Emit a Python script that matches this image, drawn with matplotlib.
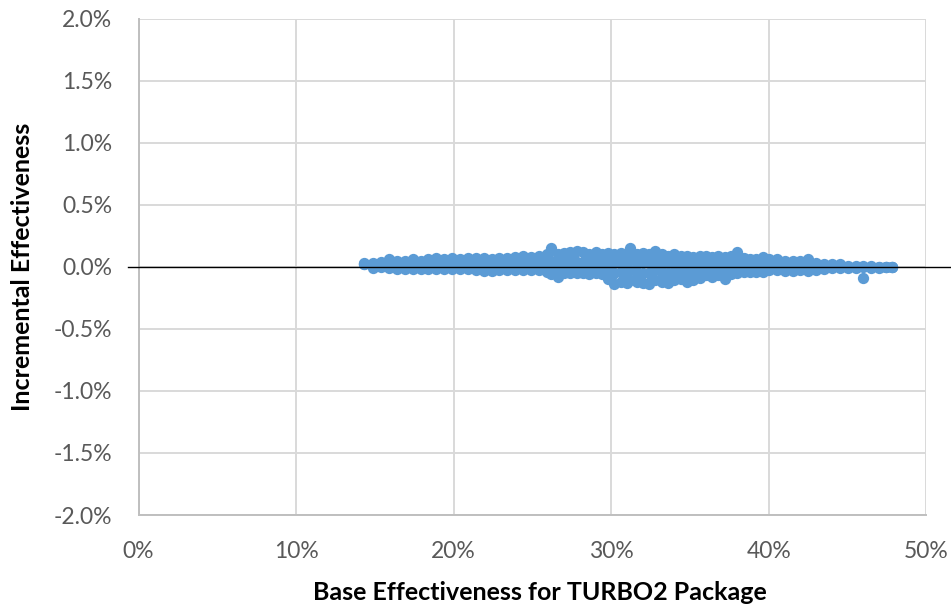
import matplotlib
matplotlib.use("Agg")
import matplotlib.pyplot as plt
from matplotlib.ticker import FuncFormatter

# ---- data (percent units) ----
x_cols = [14.3, 14.9, 15.4, 15.9, 16.4, 16.9, 17.4, 17.9, 18.4, 18.9,
          19.4, 19.9, 20.4, 20.9, 21.4, 21.9, 22.4, 22.9, 23.4, 23.9,
          24.4, 24.9, 25.4, 25.9, 26.2, 26.6, 27.0, 27.4, 27.8, 28.2,
          28.6, 29.0, 29.4, 29.8, 30.2, 30.6, 31.0, 31.2, 31.6, 32.0,
          32.4, 32.8, 33.2, 33.6, 34.0, 34.4, 34.8, 35.2, 35.6, 36.0,
          36.4, 36.8, 37.2, 37.6, 38.0, 38.4, 38.8, 39.2, 39.6, 40.0,
          40.5, 41.0, 41.5, 42.0, 42.5, 43.0, 43.5, 44.0, 44.5, 45.0,
          45.5, 46.0, 46.5, 47.0, 47.4, 47.8]
y_upper = [0.03, 0.03, 0.04, 0.06, 0.05, 0.05, 0.06, 0.05, 0.06, 0.07,
           0.06, 0.07, 0.06, 0.07, 0.07, 0.07, 0.06, 0.07, 0.07, 0.08,
           0.09, 0.08, 0.09, 0.10, 0.155, 0.10, 0.11, 0.12, 0.13, 0.12,
           0.10, 0.12, 0.10, 0.11, 0.10, 0.11, 0.10, 0.155, 0.10, 0.11,
           0.10, 0.13, 0.10, 0.09, 0.10, 0.09, 0.09, 0.08, 0.09, 0.09,
           0.08, 0.09, 0.08, 0.09, 0.115, 0.07, 0.06, 0.06, 0.08, 0.06,
           0.06, 0.05, 0.05, 0.05, 0.06, 0.03, 0.02, 0.02, 0.02, 0.01,
           0.01, 0.01, 0.01, 0.00, 0.00, -0.005]
y_mid = [0.025, 0.01, 0.02, 0.02, 0.015, 0.015, 0.02, 0.015, 0.02, 0.025,
         0.02, 0.025, 0.02, 0.025, 0.02, 0.02, 0.015, 0.02, 0.02, 0.025,
         0.03, 0.025, 0.03, 0.03, 0.05, 0.01, 0.03, 0.04, 0.04, 0.03,
         0.02, 0.035, 0.02, 0.04, 0.03, 0.04, 0.03, 0.06, 0.03, 0.04,
         0.03, 0.05, 0.03, 0.03, 0.04, 0.03, 0.03, 0.02, 0.03, 0.03,
         0.02, 0.03, 0.02, 0.03, 0.04, 0.02, 0.015, 0.015, 0.025, 0.02,
         0.02, 0.01, 0.01, 0.01, 0.015, 0.0, 0.0, 0.005, 0.005, 0.0,
         0.0, 0.0, 0.0, -0.005, -0.005, -0.005]
y_lower = [0.02, -0.01, 0.00, -0.01, -0.02, -0.02, -0.02, -0.02, -0.02, -0.02,
           -0.02, -0.02, -0.02, -0.02, -0.03, -0.035, -0.035, -0.03, -0.03, -0.03,
           -0.03, -0.03, -0.03, -0.04, -0.06, -0.08, -0.05, -0.05, -0.05, -0.05,
           -0.06, -0.05, -0.06, -0.10, -0.135, -0.12, -0.13, -0.11, -0.12, -0.13,
           -0.14, -0.11, -0.12, -0.13, -0.11, -0.10, -0.125, -0.11, -0.09, -0.07,
           -0.08, -0.07, -0.10, -0.06, -0.05, -0.04, -0.04, -0.04, -0.04, -0.03,
           -0.03, -0.035, -0.035, -0.03, -0.035, -0.03, -0.02, -0.01, -0.01, -0.01,
           -0.01, -0.09, -0.01, -0.01, -0.005, -0.005]
x_core = [24.6, 25.1, 25.6, 26.2, 26.6, 27.0, 27.4, 27.8, 28.2, 28.6, 29.0, 29.4, 29.8,
          30.2, 30.6, 31.0, 31.2, 31.6, 32.0, 32.4, 32.8, 33.2, 33.6,
          34.0, 34.4, 34.8, 35.2, 35.6, 36.0, 36.4, 36.8, 37.2, 37.6, 38.0,
          38.6, 39.4, 40.2]
y_core = [0.0, 0.0, -0.01, -0.01, -0.04, -0.01, -0.01, -0.01, -0.01, -0.02, -0.01, -0.02, -0.03,
          -0.05, -0.04, -0.05, -0.03, -0.04, -0.05, -0.05, -0.03, -0.04, -0.05,
          -0.04, -0.03, -0.05, -0.04, -0.03, -0.02, -0.03, -0.02, -0.04, -0.01, -0.01,
          0.0, 0.0, 0.0]
x_core2 = [26.8, 27.6, 28.4, 29.2, 29.6, 30.0, 30.4, 30.8, 31.4, 31.8, 32.2, 32.6, 33.0, 33.4,
           33.8, 34.2, 34.6, 35.0, 35.4, 35.8, 36.6, 37.4]
y_core2 = [0.07, 0.07, 0.07, 0.07, 0.07, -0.08, 0.07, -0.09, 0.07, -0.09, 0.07, -0.09, 0.07, -0.08,
           0.06, -0.08, 0.06, -0.08, 0.06, -0.06, 0.06, 0.05]

x_ticks = [0, 10, 20, 30, 40, 50]
y_ticks = [-2.0, -1.5, -1.0, -0.5, 0.0, 0.5, 1.0, 1.5, 2.0]
x_title = "Base Effectiveness for TURBO2 Package"
y_title = "Incremental Effectiveness"

color = "#5B9BD5"
font = ["Lato", "DejaVu Sans"]
msize = 66

fig = plt.figure(figsize=(9.51, 6.11), dpi=100)
ax = fig.add_axes([138.5 / 951, 96 / 611, 788 / 951, 496.5 / 611])

for yy in [y_upper, y_mid, y_lower]:
    ax.scatter(x_cols, yy, s=msize, color=color, linewidths=0, zorder=3)
ax.scatter(x_core, y_core, s=msize, color=color, linewidths=0, zorder=3)
ax.scatter(x_core2, y_core2, s=msize, color=color, linewidths=0, zorder=3)

ax.axhline(0, xmin=-0.013, xmax=1.03, color="black", lw=1.0, zorder=4, clip_on=False)

ax.set_xlim(0, 50)
ax.set_ylim(-2.0, 2.0)
ax.set_xticks(x_ticks)
ax.set_yticks(y_ticks)
ax.xaxis.set_major_formatter(FuncFormatter(lambda v, p: f"{v:.0f}%"))
ax.yaxis.set_major_formatter(FuncFormatter(lambda v, p: f"{v:.1f}%"))
ax.grid(True, color="#d9d9d9", lw=1.4, zorder=0)
ax.set_axisbelow(True)
for s in ["top", "right"]:
    ax.spines[s].set_visible(False)
for s in ["left", "bottom"]:
    ax.spines[s].set_color("#bfbfbf")
    ax.spines[s].set_linewidth(1.4)
ax.tick_params(length=0, labelsize=16.5, labelcolor="#595959", pad=19)
ax.tick_params(axis="x", pad=19)
for lab in ax.get_xticklabels() + ax.get_yticklabels():
    lab.set_family(font)

ax.set_xlabel(x_title, fontsize=18, fontweight="bold", family=font, va="baseline")
ax.xaxis.set_label_coords(0.5095, -0.172)
ax.set_ylabel(y_title, fontsize=18, fontweight="bold", family=font, va="center")
ax.yaxis.set_label_coords(-0.1478, 0.5)

fig.savefig("out.png", dpi=100)
